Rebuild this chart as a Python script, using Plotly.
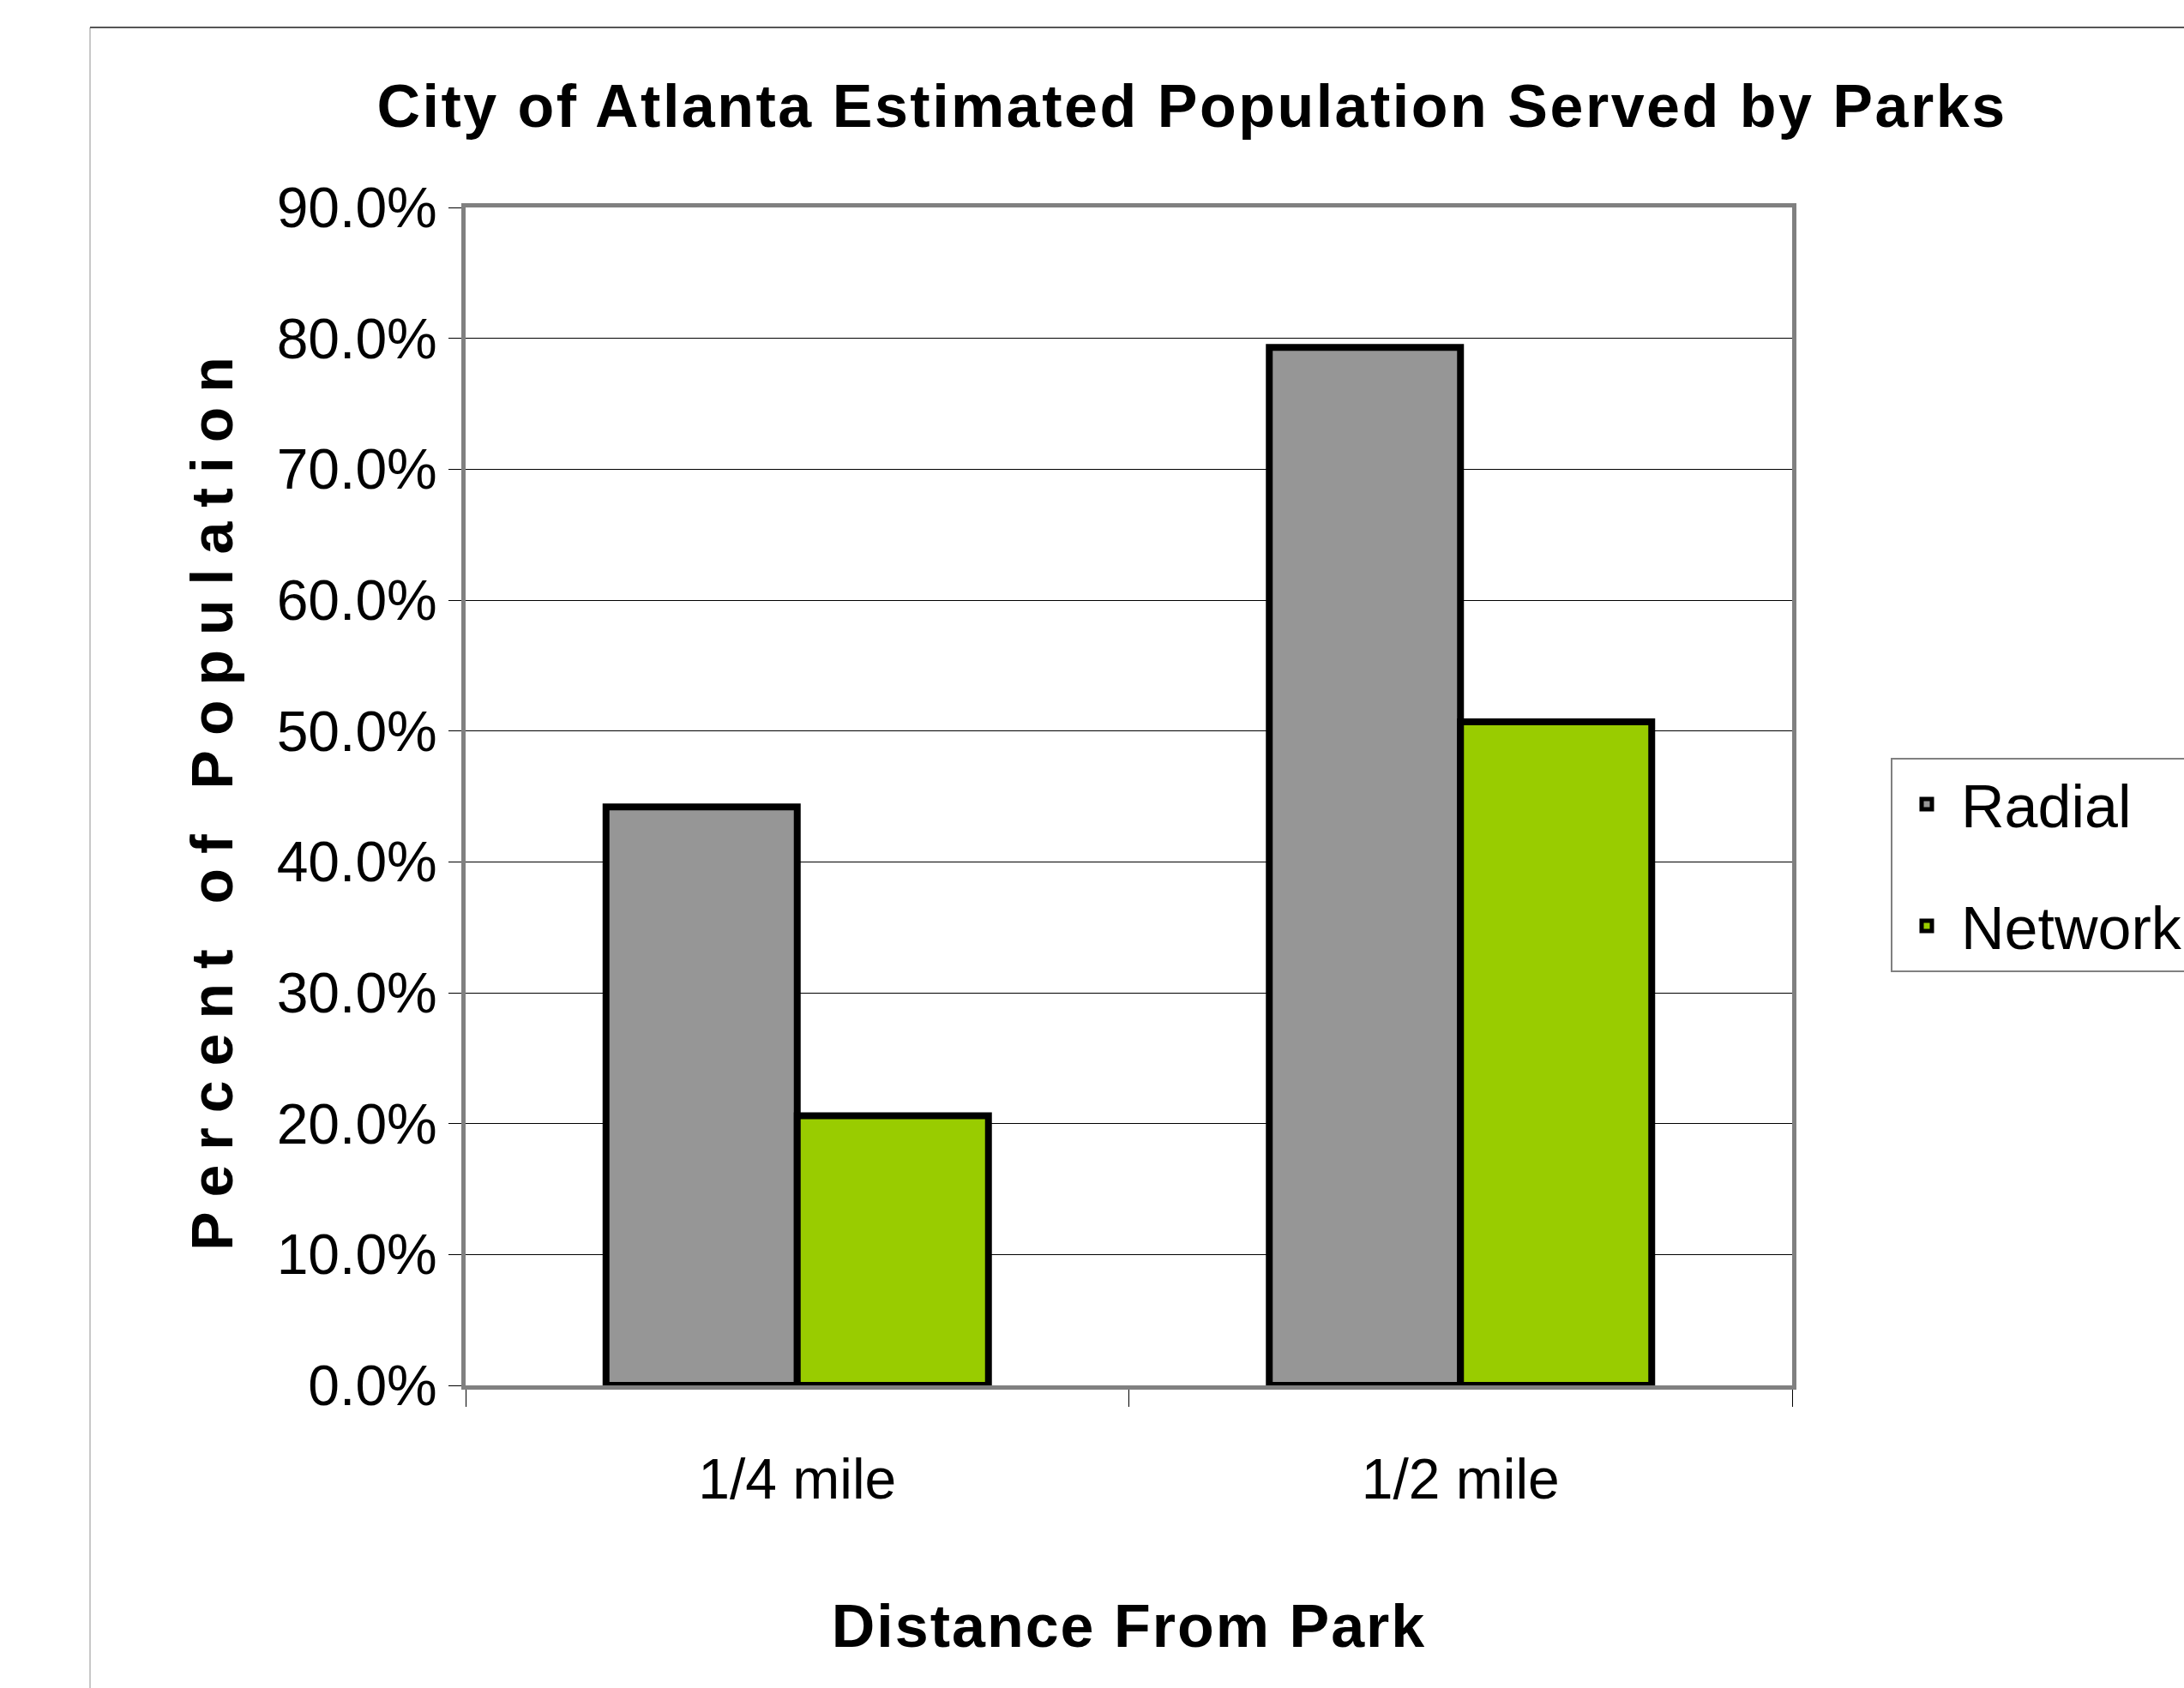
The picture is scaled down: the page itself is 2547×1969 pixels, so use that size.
import plotly.graph_objects as go

categories = ["1/4 mile", "1/2 mile"]
radial = [0.442, 0.793]
network = [0.206, 0.507]
series_names = ["Radial", "Network"]
y_ticks = [0.0, 0.1, 0.2, 0.3, 0.4, 0.5, 0.6, 0.7, 0.8, 0.9]

FONT = "Liberation Sans, Arial, sans-serif"

W, H = 2547, 1969
ML, MR, MT, MB = 543, W - 2090, 242, H - 1616
PW, PH = W - ML - MR, H - MT - MB

def px2paper_x(px):
    return (px - ML) / PW

def px2paper_y(py):
    return (H - MB - py) / PH

fig = go.Figure()
fig.add_trace(go.Bar(
    x=categories, y=radial, name=series_names[0], legendgroup="r",
    marker=dict(color="#969696", line=dict(color="#000000", width=8)),
))
fig.add_trace(go.Bar(
    x=categories, y=network, name=series_names[1], legendgroup="n",
    marker=dict(color="#99CC00", line=dict(color="#000000", width=8)),
))

# outer chart-area frame (partially visible)
fig.add_shape(type="line", xref="paper", yref="paper",
              x0=px2paper_x(105), x1=px2paper_x(105),
              y0=px2paper_y(H + 20), y1=px2paper_y(32),
              line=dict(color="#c8c8c8", width=2), layer="below")
fig.add_shape(type="line", xref="paper", yref="paper",
              x0=px2paper_x(105), x1=px2paper_x(W + 20),
              y0=px2paper_y(32), y1=px2paper_y(32),
              line=dict(color="#555555", width=2), layer="below")

fig.update_layout(
    width=W, height=H,
    margin=dict(l=ML, r=MR, t=MT, b=MB, autoexpand=False),
    paper_bgcolor="white", plot_bgcolor="white",
    barmode="group", bargap=0.4234, bargroupgap=0,
    title=dict(
        text="<span style='letter-spacing:2.5px'>City of Atlanta Estimated Population Served by Parks</span>",
        font=dict(family=FONT, size=70, color="#000000", weight="bold"),
        x=1390 / W, xanchor="center", xref="container",
        y=1 - 123 / H, yanchor="middle", yref="container",
    ),
    font=dict(family=FONT, color="#000000"),
    showlegend=True,
    legend=dict(
        x=px2paper_x(2205), xanchor="left",
        y=px2paper_y(884), yanchor="top",
        bordercolor="#808080", borderwidth=2, bgcolor="white",
        font=dict(family=FONT, size=70, color="#000000"),
        traceorder="grouped", tracegroupgap=48,
        itemwidth=70,
    ),
)

fig.update_xaxes(
    type="category",
    showline=True, linecolor="#808080", linewidth=5, mirror=True,
    ticks="outside", tickson="boundaries", ticklen=20, tickcolor="#000000", tickwidth=1,
    tickfont=dict(family=FONT, size=66, color="#000000"),
    ticklabelstandoff=48,
    showgrid=False,
    title=dict(
        text="<span style='letter-spacing:2px'>Distance From Park</span>",
        font=dict(family=FONT, size=70, color="#000000", weight="bold"),
        standoff=112,
    ),
)
fig.update_yaxes(
    range=[0, 0.9], tickvals=y_ticks, tickformat=".1%",
    showline=True, linecolor="#808080", linewidth=5, mirror=True,
    ticks="outside", ticklen=15, tickcolor="#000000", tickwidth=1,
    tickfont=dict(family=FONT, size=66, color="#000000"),
    ticklabelstandoff=0,
    showgrid=True, gridcolor="#000000", gridwidth=1,
    zeroline=False,
    title=dict(
        text="<span style='letter-spacing:17px'>Percent of Population</span>",
        font=dict(family=FONT, size=68, color="#000000", weight="bold"),
        standoff=30,
    ),
)

fig.write_html("out.html")
